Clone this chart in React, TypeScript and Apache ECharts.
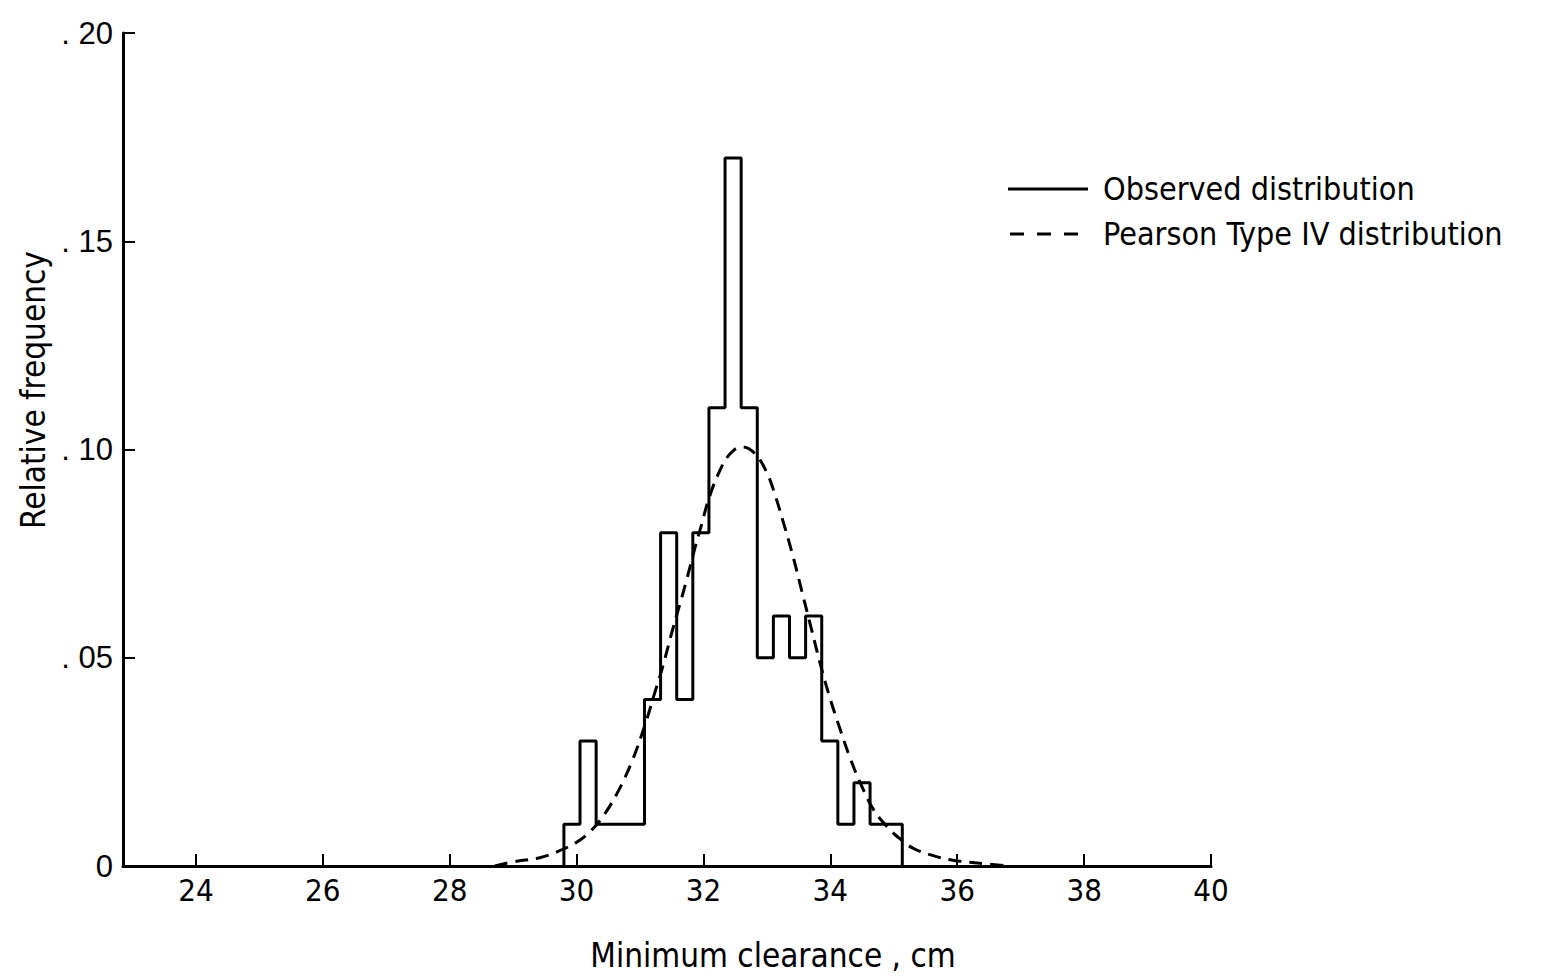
import React, { useEffect, useRef } from "react";
import * as echarts from "echarts";

// Histogram: bins of 0.254 cm starting at 29.80 cm
const binStart = 29.8;
const binWidth = 0.254;
const observed = [
  0.01, 0.03, 0.01, 0.01, 0.01, 0.04, 0.08, 0.04, 0.08, 0.11, 0.17,
  0.11, 0.05, 0.06, 0.05, 0.06, 0.03, 0.01, 0.02, 0.01, 0.01,
];

// Pearson Type IV fitted curve
const pearsonX = [
  28.71, 29.0, 29.42, 29.69, 30.01, 30.21, 30.42, 30.64, 30.87, 31.08,
  31.24, 31.36, 31.5, 31.63, 31.74, 31.87, 31.98, 32.07, 32.23, 32.42, 32.61,
  32.81, 33.0, 33.13, 33.25, 33.4, 33.55, 33.7, 33.85, 34.0, 34.15,
  34.31, 34.47, 34.67, 34.89, 35.1, 35.3, 35.62, 35.93, 36.47, 36.83,
];
const pearsonY = [
  0.0, 0.001, 0.002, 0.0034, 0.0058, 0.0082, 0.012, 0.0175, 0.025, 0.034,
  0.042, 0.048, 0.056, 0.063, 0.069, 0.0766, 0.0825, 0.0875, 0.094, 0.099, 0.1006,
  0.099, 0.0944, 0.089, 0.083, 0.075, 0.066, 0.057, 0.048, 0.04, 0.033,
  0.026, 0.02, 0.0138, 0.0095, 0.0065, 0.0043, 0.0025, 0.0014, 0.0005, 0.0,
];

const xTicks = [24, 26, 28, 30, 32, 34, 36, 38, 40];
const yTicks = [0, 0.05, 0.1, 0.15, 0.2];
const yTickLabels = ["0", ". 05", ". 10", ". 15", ". 20"];

const xAxisTitle = "Minimum clearance , cm";
const yAxisTitle = "Relative frequency";
const legendObserved = "Observed distribution";
const legendPearson = "Pearson Type IV distribution";

const NARROW = "'DejaVu Sans Condensed', sans-serif";
const WIDE = "'Liberation Sans', 'DejaVu Sans', sans-serif";

export default function App() {
  const ref = useRef<HTMLDivElement>(null);
  useEffect(() => {
    if (!ref.current) return;
    const chart = echarts.init(ref.current, null, { renderer: "svg" });

    const histData: number[][] = [[binStart, 0]];
    observed.forEach((v, i) => histData.push([binStart + i * binWidth, v]));
    histData.push([binStart + observed.length * binWidth, 0]);

    const pearsonData = pearsonX.map((x, i) => [x, pearsonY[i]]);

    chart.setOption({
      animation: false,
      backgroundColor: "#ffffff",
      grid: { left: 123, right: 337, top: 33, bottom: 110 },
      xAxis: {
        type: "value",
        min: 22.85,
        max: 40,
        splitLine: { show: false },
        axisLine: { show: true, onZero: false, lineStyle: { color: "#000", width: 3 } },
        axisTick: {
          show: true,
          inside: true,
          length: 12,
          customValues: xTicks,
          lineStyle: { color: "#000", width: 2 },
        },
        axisLabel: {
          customValues: xTicks,
          color: "#000",
          fontSize: 31,
          fontFamily: NARROW,
          margin: 8,
        },
      },
      yAxis: {
        type: "value",
        min: 0,
        max: 0.2,
        interval: 0.05,
        splitLine: { show: false },
        axisLine: { show: true, lineStyle: { color: "#000", width: 3 } },
        axisTick: {
          show: true,
          inside: true,
          length: 12,
          lineStyle: { color: "#000", width: 2 },
        },
        axisLabel: {
          color: "#000",
          fontSize: 31,
          fontFamily: WIDE,
          margin: 10,
          formatter: (v: number) => {
            const idx = yTicks.findIndex((t) => Math.abs(t - v) < 1e-9);
            return idx >= 0 ? yTickLabels[idx] : "";
          },
        },
      },
      series: [
        {
          type: "line",
          name: legendObserved,
          data: histData,
          step: "end",
          symbol: "none",
          lineStyle: { color: "#000", width: 3 },
          z: 3,
        },
        {
          type: "line",
          name: legendPearson,
          data: pearsonData,
          smooth: 0.4,
          symbol: "none",
          lineStyle: { color: "#000", width: 3, type: [13, 8] },
          z: 2,
        },
      ],
      graphic: [
        {
          type: "text",
          rotation: Math.PI / 2,
          x: 33,
          y: 390,
          style: {
            text: yAxisTitle,
            fontSize: 33,
            fontFamily: NARROW,
            fill: "#000",
            align: "center",
            verticalAlign: "middle",
          },
        },
        {
          type: "text",
          x: 773,
          y: 955,
          style: {
            text: xAxisTitle,
            fontSize: 33,
            fontFamily: NARROW,
            fill: "#000",
            align: "center",
            verticalAlign: "middle",
          },
        },
        {
          type: "line",
          shape: { x1: 1008, y1: 189, x2: 1088, y2: 189 },
          style: { stroke: "#000", lineWidth: 3 },
        },
        {
          type: "line",
          shape: { x1: 1010, y1: 234, x2: 1090, y2: 234 },
          style: { stroke: "#000", lineWidth: 3, lineDash: [14, 13] },
        },
        {
          type: "text",
          x: 1103,
          y: 189,
          style: {
            text: legendObserved,
            fontSize: 32,
            fontFamily: NARROW,
            fill: "#000",
            verticalAlign: "middle",
          },
        },
        {
          type: "text",
          x: 1103,
          y: 234,
          style: {
            text: legendPearson,
            fontSize: 32,
            fontFamily: NARROW,
            fill: "#000",
            verticalAlign: "middle",
          },
        },
      ],
    });
    return () => chart.dispose();
  }, []);
  return (
    <div
      ref={ref}
      style={{ position: "absolute", left: 0, top: 0, width: 1548, height: 976 }}
    />
  );
}
